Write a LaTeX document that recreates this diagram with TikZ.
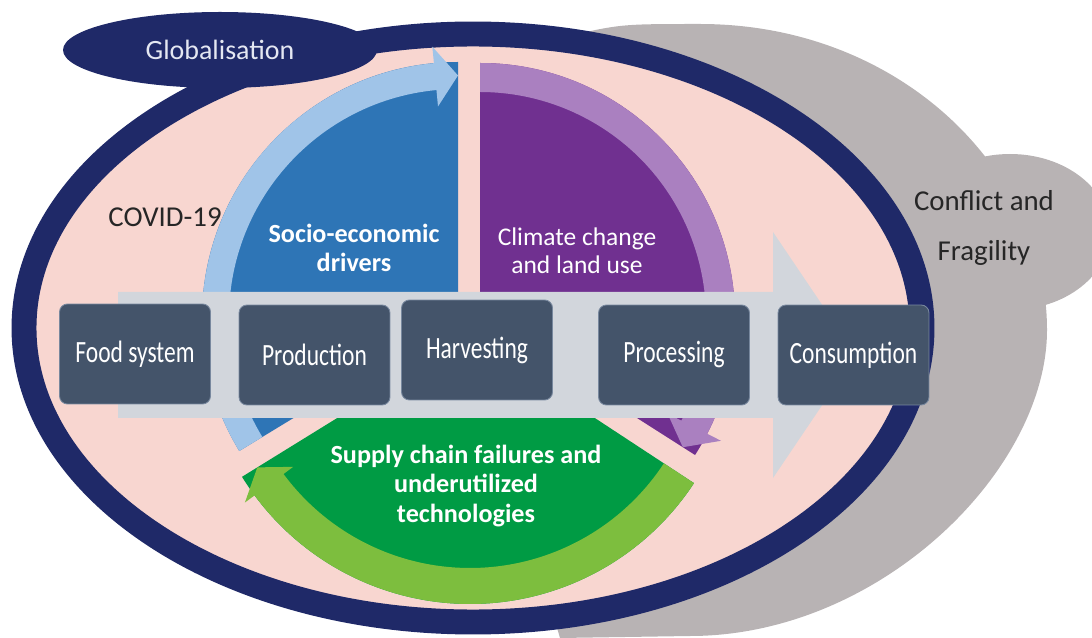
\documentclass[tikz,border=0pt]{standalone}
\usepackage{fontspec}
\setmainfont{Carlito}
\newfontfamily\boxfont[FakeStretch=0.76]{Carlito}
\usetikzlibrary{calc}
\definecolor{navy}{RGB}{31,41,104}
\definecolor{pinkbg}{RGB}{248,214,208}
\definecolor{graybg}{RGB}{184,179,180}
\definecolor{dblue}{RGB}{46,117,182}
\definecolor{lblue}{RGB}{160,196,232}
\definecolor{dpurple}{RGB}{112,48,144}
\definecolor{lpurple}{RGB}{170,128,192}
\definecolor{dgreen}{RGB}{0,155,68}
\definecolor{lgreen}{RGB}{125,190,62}
\definecolor{grayarrow}{RGB}{210,214,220}
\definecolor{boxfill}{RGB}{68,84,106}
\definecolor{boxline}{RGB}{120,136,158}
\definecolor{globtext}{RGB}{228,231,242}
\tikzset{
  stagebox/.style={rectangle, rounded corners=4.5pt, fill=boxfill, draw=boxline, line width=0.5pt,
    minimum width=3.02cm, minimum height=2cm, inner sep=0pt, text=white,
    font=\boxfont\fontsize{17.6pt}{20pt}\selectfont},
  darklabel/.style={text=black!85, font=\fontsize{16.4pt}{28.4pt}\selectfont, align=center, inner sep=0pt},
  boldlabel/.style={text=white, font=\bfseries\fontsize{14.9pt}{16.6pt}\selectfont, align=center, inner sep=0pt},
}
\begin{document}
\begin{tikzpicture}[x=0.02cm,y=0.02cm]
\useasboundingbox (0,0) rectangle (1092,-638);
% Conflict and fragility cloud
\fill[graybg] (1010,-232) ellipse [x radius=100, y radius=78];
\fill[graybg] (560,-38) .. controls (620,-24) .. (700,-24)
  .. controls (900,-24) and (1047,-170) .. (1047,-330)
  .. controls (1047,-470) and (880,-636) .. (690,-636)
  -- (560,-638) -- (470,-330) -- cycle;
% main ellipse
\filldraw[fill=pinkbg, draw=navy, line width=14.2pt] (473,-328) ellipse [x radius=449, y radius=294];
% globalisation ellipse
\fill[navy] (220,-50) ellipse [x radius=157, y radius=38];
% sectors
\fill[dblue] (458,-318) -- ++(90:256) arc[start angle=90, end angle=211.3, radius=256] -- cycle;
\fill[dpurple] (480,-318) -- ++(90:255) arc[start angle=90, end angle=-32.5, radius=255] -- cycle;
\fill[dgreen] (470,-336) -- ++(-33.3:268) arc[start angle=-33.3, end angle=-148.3, radius=268] -- cycle;
% circular arrows
\fill[lblue] ($(458,-318)+(211.3:256)$) arc[start angle=211.3, end angle=95.4, radius=256]
  -- ($(458,-318)+(95.4:272.5)$) -- ($(458,-318)+(90:242.5)$) -- ($(458,-318)+(95.4:212.5)$)
  -- ($(458,-318)+(95.4:229)$) arc[start angle=95.4, end angle=211.3, radius=229] -- cycle;
\fill[lpurple] ($(480,-318)+(90:255)$) arc[start angle=90, end angle=-27, radius=255]
  -- ($(480,-318)+(-27:270.5)$) -- ($(480,-318)+(-32.5:240.5)$) -- ($(480,-318)+(-27:210.5)$)
  -- ($(480,-318)+(-27:226)$) arc[start angle=-27, end angle=90, radius=226] -- cycle;
\fill[lgreen] ($(470,-336)+(-33.3:268)$) arc[start angle=-33.3, end angle=-143.5, radius=268]
  -- ($(470,-336)+(-143.5:280)$) -- ($(470,-336)+(-148.3:250)$) -- ($(470,-336)+(-143.5:220)$)
  -- ($(470,-336)+(-143.5:232)$) arc[start angle=-143.5, end angle=-33.3, radius=232] -- cycle;
% big process arrow
\fill[grayarrow] (118,-292) -- (773,-292) -- (773,-232) -- (856,-355) -- (773,-478) -- (773,-418) -- (118,-418) -- cycle;
% stage boxes
\node[stagebox] (food) at (135,-354) {Food system};
\node[stagebox] (prod) at (314.5,-355) {Production};
\node[stagebox] (harv) at (477,-350) {Harvesting};
\node[stagebox] (proc) at (674,-355) {Processing};
\node[stagebox] (cons) at (853.5,-355) {Consumption};
% labels
\node[text=globtext, font=\fontsize{15.9pt}{18pt}\selectfont, inner sep=0pt] (glob) at (220,-50) {Globalisation};
\node[darklabel] (covid) at (165,-217) {COVID-19};
\node[darklabel] (conflict) at (984,-228) {Conflict and\\Fragility};
\node[boldlabel] (socio) at (354,-247.5) {Socio-economic\\drivers};
\node[text=white, font=\fontsize{14.5pt}{15.9pt}\selectfont, align=center, inner sep=0pt] (climate) at (577,-251) {Climate change\\and land use};
\node[boldlabel, font=\bfseries\fontsize{14.9pt}{17pt}\selectfont] (supply) at (466,-486) {Supply chain failures and\\underutilized\\technologies};
\end{tikzpicture}
\end{document}
